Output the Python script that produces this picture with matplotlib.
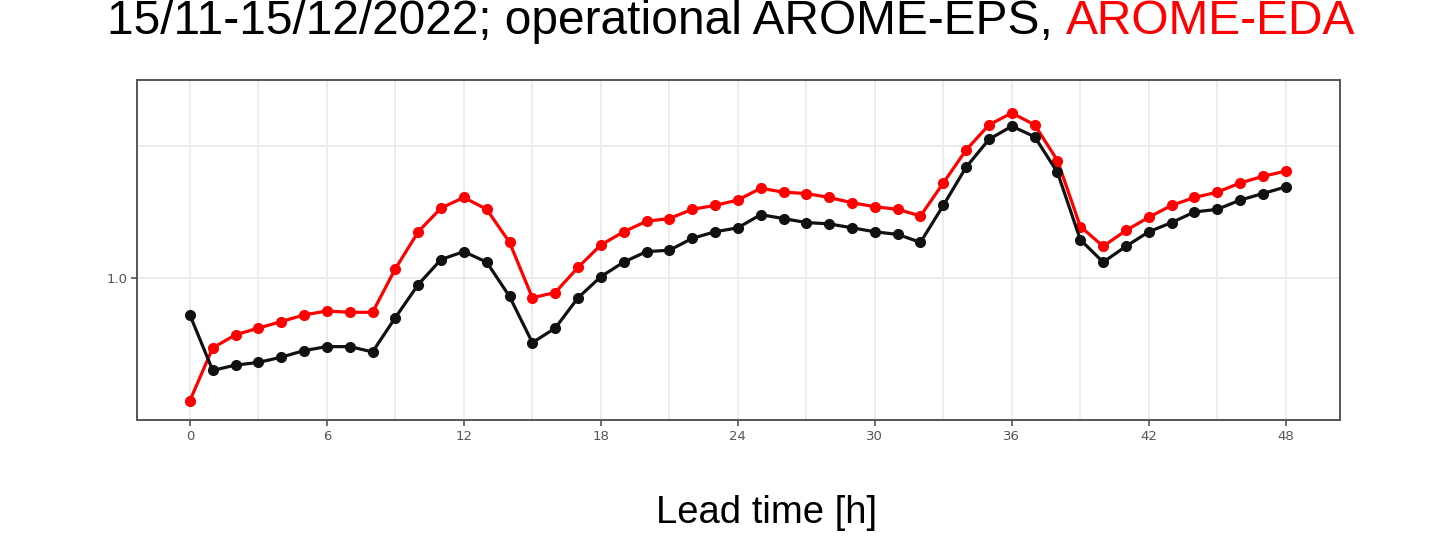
import numpy as np
import matplotlib.pyplot as plt
from matplotlib.ticker import MultipleLocator

# lead times (h) and scores for the two configurations
lead = np.arange(0, 49)

eps = [0.972, 0.930, 0.934, 0.936, 0.940, 0.945, 0.948, 0.948, 0.944, 0.970,
       0.995, 1.014, 1.020, 1.012, 0.986, 0.951, 0.962, 0.985, 1.001, 1.012,
       1.020, 1.021, 1.030, 1.035, 1.038, 1.048, 1.045, 1.042, 1.041, 1.038,
       1.035, 1.033, 1.027, 1.055, 1.084, 1.105, 1.115, 1.107, 1.080, 1.029,
       1.012, 1.024, 1.035, 1.042, 1.050, 1.052, 1.059, 1.064, 1.069]

eda = [0.907, 0.947, 0.957, 0.962, 0.967, 0.972, 0.975, 0.974, 0.974, 1.007,
       1.035, 1.053, 1.061, 1.052, 1.027, 0.985, 0.989, 1.008, 1.025, 1.035,
       1.043, 1.045, 1.052, 1.055, 1.059, 1.068, 1.065, 1.064, 1.061, 1.057,
       1.054, 1.052, 1.047, 1.072, 1.097, 1.116, 1.125, 1.116, 1.089, 1.039,
       1.024, 1.036, 1.046, 1.055, 1.061, 1.065, 1.072, 1.077, 1.081]

title_black = "15/11-15/12/2022; operational AROME-EPS, "
title_red = "AROME-EDA"

fig = plt.figure(figsize=(14.52, 5.43), dpi=100)
ax = fig.add_axes([0.0943, 0.2265, 0.8285, 0.6262])

ax.plot(lead, eda, '-o', color='#ff0000', lw=2.3, ms=7, zorder=3)
ax.plot(lead, eps, '-o', color='#111111', lw=2.3, ms=7, zorder=4)

ax.set_xlim(-2.32, 50.37)
ax.set_ylim(0.8924, 1.15)
ax.xaxis.set_major_locator(MultipleLocator(6))
ax.xaxis.set_minor_locator(MultipleLocator(3))
ax.set_yticks([1.0])
ax.set_yticks([1.1], minor=True)
ax.set_yticklabels(['1.0'])

ax.grid(which='both', color='#ebebeb', lw=1.3, zorder=0)
ax.tick_params(which='major', length=4, width=1.2, color='#555555',
               labelsize=9.5, labelcolor='#555555', pad=3)
ax.tick_params(which='minor', length=0)
for s in ax.spines.values():
    s.set_color('#555555')
    s.set_linewidth(1.4)

# title in two colours
tf = ['Liberation Sans', 'DejaVu Sans']
t1 = fig.text(107 / 1452, 1 - 34 / 543, title_black, fontsize=34.5,
              family=tf, color='black', va='baseline', ha='left')
fig.canvas.draw()
bb = t1.get_window_extent(renderer=fig.canvas.get_renderer())
x_red = bb.x1 / fig.bbox.width
fig.text(x_red, 1 - 34 / 543, title_red, fontsize=34.5, family=tf,
         color='#ff0000', va='baseline', ha='left')

fig.text(767 / 1452, 1 - 523 / 543, 'Lead time [h]', fontsize=27.5,
         family=['Liberation Sans', 'DejaVu Sans'], ha='center', va='baseline')

fig.savefig('out.png', dpi=100, facecolor='white')
